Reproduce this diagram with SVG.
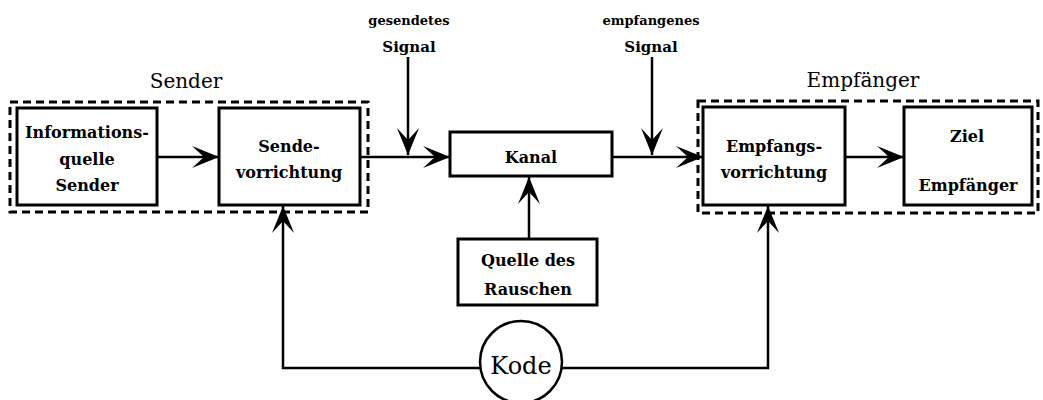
<svg xmlns="http://www.w3.org/2000/svg" width="1043" height="400" viewBox="0 0 1043 400">
  <style>
    .box { fill: #fff; stroke: #000; stroke-width: 3; }
    .group { fill: none; stroke: #000; stroke-width: 3; stroke-dasharray: 8 5; }
    .wire { fill: none; stroke: #000; stroke-width: 2.5; }
    .t { font-family: "DejaVu Serif", "Liberation Serif", serif; fill: #000; text-anchor: middle; }
    .b { font-size: 16px; font-weight: bold; }
    .lbl { font-size: 13px; font-weight: bold; }
    .sig { font-size: 15px; font-weight: bold; }
    .big { font-size: 20px; }
    .kode { font-size: 24px; }
  </style>
  <defs>
    <marker id="arrow" viewBox="-28 -12 30 24" refX="0" refY="0" markerWidth="30" markerHeight="24" markerUnits="userSpaceOnUse" orient="auto">
      <path d="M0,0 L-27,-11 L-15,0 L-27,11 Z" fill="#000"/>
    </marker>
  </defs>

  <!-- grouping frames -->
  <g id="sender-group">
    <rect class="group" x="10" y="102" width="358" height="110"/>
    <text class="t big" x="186" y="88">Sender</text>
  </g>
  <g id="empfaenger-group">
    <rect class="group" x="698" y="101" width="340" height="112"/>
    <text class="t big" x="863" y="87">Empfänger</text>
  </g>

  <!-- connectors -->
  <g id="connectors">
    <line class="wire" x1="157" y1="157" x2="219" y2="157" marker-end="url(#arrow)"/>
    <line class="wire" x1="360" y1="157" x2="450" y2="157" marker-end="url(#arrow)"/>
    <line class="wire" x1="408" y1="57" x2="408" y2="155" marker-end="url(#arrow)"/>
    <line class="wire" x1="612" y1="157" x2="703" y2="157" marker-end="url(#arrow)"/>
    <line class="wire" x1="652" y1="57" x2="652" y2="155" marker-end="url(#arrow)"/>
    <line class="wire" x1="845" y1="157" x2="904" y2="157" marker-end="url(#arrow)"/>
    <line class="wire" x1="529" y1="239" x2="529" y2="177" marker-end="url(#arrow)"/>
    <path class="wire" d="M481,368 H283 V206" marker-end="url(#arrow)"/>
    <path class="wire" d="M561,368 H768 V206" marker-end="url(#arrow)"/>
  </g>

  <!-- signal labels -->
  <g id="gesendetes-signal">
    <text class="t lbl" x="409" y="25">gesendetes</text>
    <text class="t sig" x="409" y="52">Signal</text>
  </g>
  <g id="empfangenes-signal">
    <text class="t lbl" x="651" y="25">empfangenes</text>
    <text class="t sig" x="651" y="52">Signal</text>
  </g>

  <!-- nodes -->
  <g id="informationsquelle">
    <rect class="box" x="17" y="108" width="140" height="97"/>
    <text class="t b" x="87" y="138">Informations-</text>
    <text class="t b" x="87" y="165">quelle</text>
    <text class="t b" x="87" y="191">Sender</text>
  </g>
  <g id="sendevorrichtung">
    <rect class="box" x="219" y="108" width="141" height="97"/>
    <text class="t b" x="289" y="152">Sende-</text>
    <text class="t b" x="289" y="178">vorrichtung</text>
  </g>
  <g id="kanal">
    <rect class="box" x="450" y="132" width="162" height="44"/>
    <text class="t b" x="531" y="163">Kanal</text>
  </g>
  <g id="empfangsvorrichtung">
    <rect class="box" x="703" y="107" width="142" height="98"/>
    <text class="t b" x="774" y="152">Empfangs-</text>
    <text class="t b" x="774" y="178">vorrichtung</text>
  </g>
  <g id="ziel">
    <rect class="box" x="904" y="107" width="128" height="98"/>
    <text class="t b" x="967" y="142">Ziel</text>
    <text class="t b" x="968" y="191">Empfänger</text>
  </g>
  <g id="rauschquelle">
    <rect class="box" x="458" y="239" width="139" height="66"/>
    <text class="t b" x="528" y="266">Quelle des</text>
    <text class="t b" x="528" y="295">Rauschen</text>
  </g>
  <g id="kode">
    <circle cx="521" cy="362" r="41" fill="#fff" stroke="#000" stroke-width="2.5"/>
    <text class="t kode" x="521" y="374">Kode</text>
  </g>
</svg>
